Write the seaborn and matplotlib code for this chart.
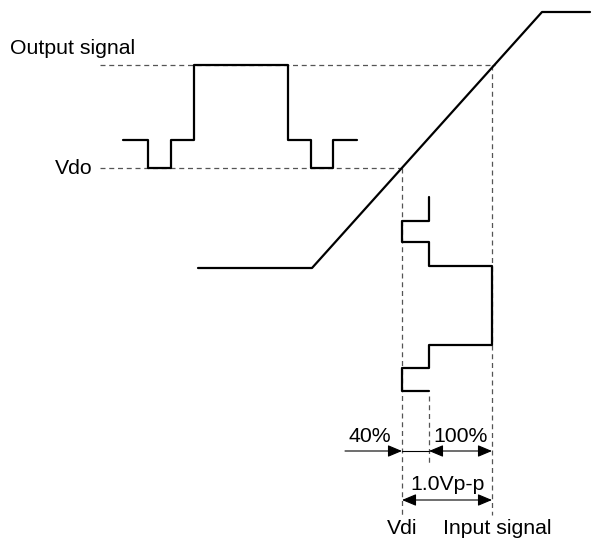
import matplotlib
matplotlib.use("Agg")
import matplotlib.pyplot as plt
import seaborn as sns

sns.set_theme(style="white")
plt.rcParams['font.family'] = ['Liberation Sans', 'DejaVu Sans']

# Transfer curve (pixel-space diagram coordinates)
curve_x = [198, 312, 542, 590]
curve_y = [268, 268, 12, 12]

# Output signal waveform
out_x = [123, 148, 148, 171, 171, 194, 194, 288, 288, 311, 311, 333, 333, 357]
out_y = [140, 140, 168, 168, 140, 140, 65, 65, 140, 140, 168, 168, 140, 140]

# Input signal waveform
in_x = [429, 429, 402, 402, 429, 429, 492, 492, 429, 429, 402, 402, 429]
in_y = [197, 221, 221, 242, 242, 266, 266, 345, 345, 368, 368, 391, 391]

# Dashed guide lines: (x0, y0, x1, y1)
guides = [
    (100, 65, 495, 65),
    (100, 168, 402, 168),
    (402, 168, 402, 515),
    (492, 65, 492, 515),
    (429, 396, 429, 466),
]

labels = [
    ("Output signal", 10, 48, "left"),
    ("Vdo", 55, 168, "left"),
    ("40%", 370, 437, "center"),
    ("100%", 461, 437, "center"),
    ("1.0Vp-p", 448, 485, "center"),
    ("Vdi", 402, 529, "center"),
    ("Input signal", 497, 529, "center"),
]

fig = plt.figure(figsize=(5.95, 5.43), dpi=100)
ax = fig.add_axes([0, 0, 1, 1])
ax.set_xlim(0, 595)
ax.set_ylim(543, 0)
ax.axis("off")

for x0, y0, x1, y1 in guides:
    ax.plot([x0, x1], [y0, y1], color="#555555", lw=0.9, ls=(0, (4, 3)), zorder=1)

for xs, ys in [(curve_x, curve_y), (out_x, out_y), (in_x, in_y)]:
    sns.lineplot(x=xs, y=ys, sort=False, estimator=None, color="black",
                 lw=1.6, ax=ax, zorder=3)

ap = dict(arrowstyle="-|>,head_length=0.62,head_width=0.26", color="black", lw=0.8,
          mutation_scale=14, shrinkA=0, shrinkB=0)
ap2 = dict(arrowstyle="<|-|>,head_length=0.62,head_width=0.26", color="black", lw=0.8,
           mutation_scale=14, shrinkA=0, shrinkB=0)
# 40% arrow
ax.annotate("", xy=(402, 451), xytext=(345, 451), arrowprops=ap)
ax.plot([402, 429], [451, 451], color="black", lw=0.8)
# 100% double arrow
ax.annotate("", xy=(492, 451), xytext=(429, 451), arrowprops=ap2)
# 1.0Vp-p double arrow
ax.annotate("", xy=(492, 500), xytext=(402, 500), arrowprops=ap2)

for t, x, y, ha in labels:
    ax.text(x, y, t, ha=ha, va="center", fontsize=15.3, color="black")

fig.savefig("out.png", dpi=100)
